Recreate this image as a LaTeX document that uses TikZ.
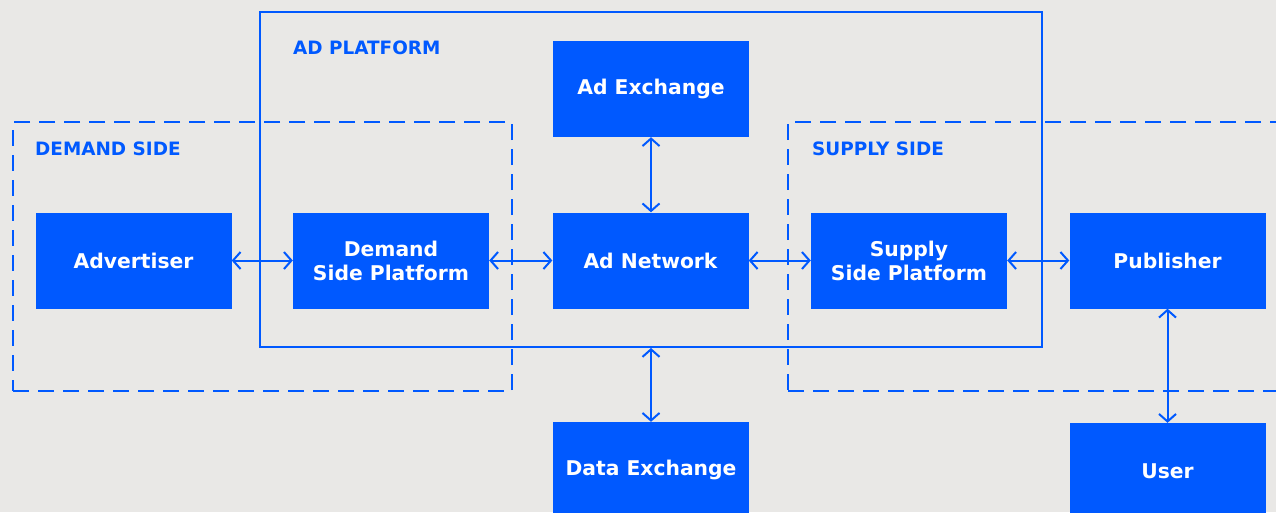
\documentclass[tikz,border=0pt]{standalone}
\usepackage{fontspec}
\setmainfont{DejaVu Sans}
\usetikzlibrary{arrows.meta}
\definecolor{bg}{HTML}{E9E8E6}
\definecolor{blu}{HTML}{0059FF}
\tikzset{
  box/.style={fill=blu, text=white, minimum width=196pt, minimum height=96pt, inner sep=0pt, align=center,
    font=\bfseries\fontsize{20.3}{24}\selectfont},
  grp/.style={draw=blu, line width=2pt, inner sep=0pt},
  dgrp/.style={grp, dash pattern=on 16pt off 9pt},
  lbl/.style={text=blu, anchor=west, inner sep=0pt, font=\bfseries\fontsize{18.4}{20}\selectfont},
  link/.style={draw=blu, line width=2pt, {Straight Barb[length=7.5pt,width=17pt]}-{Straight Barb[length=7.5pt,width=17pt]}}
}
\begin{document}
\begin{tikzpicture}[x=1pt,y=-1pt]
\useasboundingbox (0,0) rectangle (1276,512);
\clip (0,0) rectangle (1276,512);
\fill[bg] (0,0) rectangle (1276,512);
% groups
\node[dgrp, minimum width=499pt, minimum height=269pt] (demand) at (262.5,256.5) {};
\node[dgrp, minimum width=502pt, minimum height=269pt] (supply) at (1039,256.5) {};
\node[grp, minimum width=782pt, minimum height=335pt] (plat) at (651,179.5) {};
\node[lbl] (lplat) at (293,48) {AD PLATFORM};
\node[lbl] (ldem) at (35,149) {DEMAND SIDE};
\node[lbl] (lsup) at (812,149) {SUPPLY SIDE};
% boxes
\node[box] (adv) at (133.5,260.5) {Advertiser};
\node[box] (dsp) at (391,260.5) {Demand\\Side Platform};
\node[box] (anet) at (650.5,260.5) {Ad Network};
\node[box] (ssp) at (909,260.5) {Supply\\Side Platform};
\node[box] (pub) at (1167.5,260.5) {Publisher};
\node[box] (adx) at (651,89) {Ad Exchange};
\node[box] (dex) at (651,470) {Data Exchange};
\node[box] (user) at (1167.5,471) {User};
% links
\draw[link] (adv.east) -- (dsp.west);
\draw[link] (dsp.east) -- (anet.west);
\draw[link] (anet.east) -- (ssp.west);
\draw[link] (ssp.east) -- (pub.west);
\draw[link] (adx.south) -- (anet.north -| adx.south);
\draw[link] (plat.south) -- (dex.north);
\draw[link] (pub.south) -- (user.north);
\end{tikzpicture}
\end{document}
